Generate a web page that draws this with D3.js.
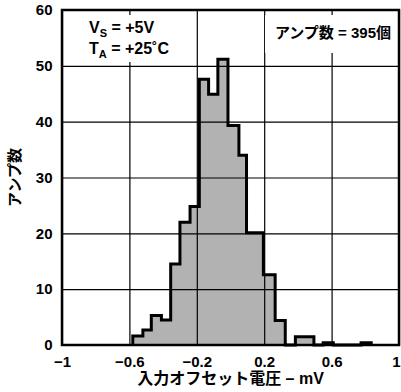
<!DOCTYPE html>
<html>
<head>
<meta charset="utf-8">
<script src="https://cdn.jsdelivr.net/npm/d3@7"></script>
<style>
  body { margin: 0; background: #fff; }
  svg text { font-family: "Liberation Sans", Arial, "Noto Sans CJK JP", sans-serif; font-weight: bold; fill: #000; }
</style>
</head>
<body>
<div id="chart"></div>
<script>
// bin edges (mV) and amp counts per bin
const binEdges = [-0.58, -0.52, -0.47, -0.41, -0.355, -0.30, -0.24, -0.185, -0.13, -0.075, -0.015,
                  0.05, 0.095, 0.145, 0.195, 0.265, 0.325, 0.385, 0.44, 0.495, 0.55, 0.61,
                  0.665, 0.72, 0.775, 0.835];
const counts = [1.6, 2.7, 5.3, 4.5, 14.5, 22, 24.8, 47.6, 44.9, 51.2, 39.3,
                34, 20.1, 20.1, 12.6, 4.4, 0, 1.5, 1.5, 0, 0.4,
                0, 0, 0, 0.4];
const xTicks = [-1, -0.6, -0.2, 0.2, 0.6, 1];
const xTickLabels = ['\u22121', '\u22120.6', '\u22120.2', '0.2', '0.6', '1'];
const yTicks = [0, 10, 20, 30, 40, 50, 60];

const width = 401;
const height = 392;
const margin = { top: 10, right: 2, bottom: 47, left: 62 };
const w = width - margin.left - margin.right;
const h = height - margin.top - margin.bottom;

const svg = d3.select('#chart')
              .append('svg')
              .attr('width', width)
              .attr('height', height);

const g = svg.append('g')
             .attr('transform', 'translate(' + margin.left + ',' + margin.top + ')');

const xScale = d3.scaleLinear().domain([-1, 1]).range([0, w]);
const yScale = d3.scaleLinear().domain([0, 60]).range([h, 0]);

// step outline points: start on baseline, one point per bin, close back to baseline
const pts = [[binEdges[0], 0]];
counts.forEach((c, i) => pts.push([binEdges[i], c]));
pts.push([binEdges[binEdges.length - 1], 0]);

const area = d3.area()
               .x(d => xScale(d[0]))
               .y0(yScale(0))
               .y1(d => yScale(d[1]))
               .curve(d3.curveStepAfter);

const line = d3.line()
               .x(d => xScale(d[0]))
               .y(d => yScale(d[1]))
               .curve(d3.curveStepAfter);

g.append('path')
 .datum(pts)
 .attr('d', area)
 .attr('fill', '#b2b2b2');

// grid + tick labels
const yAxis = d3.axisLeft(yScale)
                .tickValues(yTicks)
                .tickSize(-w)
                .tickPadding(9.5)
                .tickFormat(d3.format('d'));

const xAxis = d3.axisBottom(xScale)
                .tickValues(xTicks)
                .tickSize(-h)
                .tickPadding(11)
                .tickFormat((d, i) => xTickLabels[i]);

const gy = g.append('g').attr('class', 'y-axis').call(yAxis);
const gx = g.append('g').attr('class', 'x-axis')
            .attr('transform', 'translate(0,' + h + ')')
            .call(xAxis);

[gx, gy].forEach(ax => {
  ax.select('.domain').remove();
  ax.selectAll('line').attr('stroke', '#000').attr('stroke-width', 1.2);
  ax.selectAll('text').style('font-size', '15px');
});
// last label sits at the right edge
gx.selectAll('text').filter(d => d === 1).attr('dx', -3);

// white boxes behind the notes
g.append('rect').attr('x', 25).attr('y', 5).attr('width', 90).attr('height', 47).attr('fill', '#fff');
g.append('rect').attr('x', 203).attr('y', 5).attr('width', 130).attr('height', 38).attr('fill', '#fff');

g.append('path')
 .datum(pts)
 .attr('d', line)
 .attr('fill', 'none')
 .attr('stroke', '#000')
 .attr('stroke-width', 3)
 .attr('stroke-linejoin', 'miter');

// frame
g.append('rect')
 .attr('width', w)
 .attr('height', h)
 .attr('fill', 'none')
 .attr('stroke', '#000')
 .attr('stroke-width', 2.5);

// notes
const note1 = svg.append('text').attr('x', 89).attr('y', 33).style('font-size', '16px');
note1.append('tspan').text('V');
note1.append('tspan').text('S').style('font-size', '11px').attr('dy', 4);
note1.append('tspan').text(' = +5V').attr('dy', -4);

const note2 = svg.append('text').attr('x', 89).attr('y', 54).style('font-size', '16px');
note2.append('tspan').text('T');
note2.append('tspan').text('A').style('font-size', '11px').attr('dy', 4);
note2.append('tspan').text(' = +25\u02DAC').attr('dy', -4);

svg.append('text')
   .attr('x', 391)
   .attr('y', 38)
   .attr('text-anchor', 'end')
   .style('font-size', '15px')
   .text('アンプ数 = 395個');

// axis titles
svg.append('text')
   .attr('x', margin.left + w / 2)
   .attr('y', 384)
   .attr('text-anchor', 'middle')
   .style('font-size', '16px')
   .text('入力オフセット電圧 \u2013 mV');

svg.append('text')
   .attr('transform', 'translate(15,' + (margin.top + h / 2) + ') rotate(-90)')
   .attr('text-anchor', 'middle')
   .attr('dy', '0.35em')
   .style('font-size', '15px')
   .text('アンプ数');
</script>
</body>
</html>
